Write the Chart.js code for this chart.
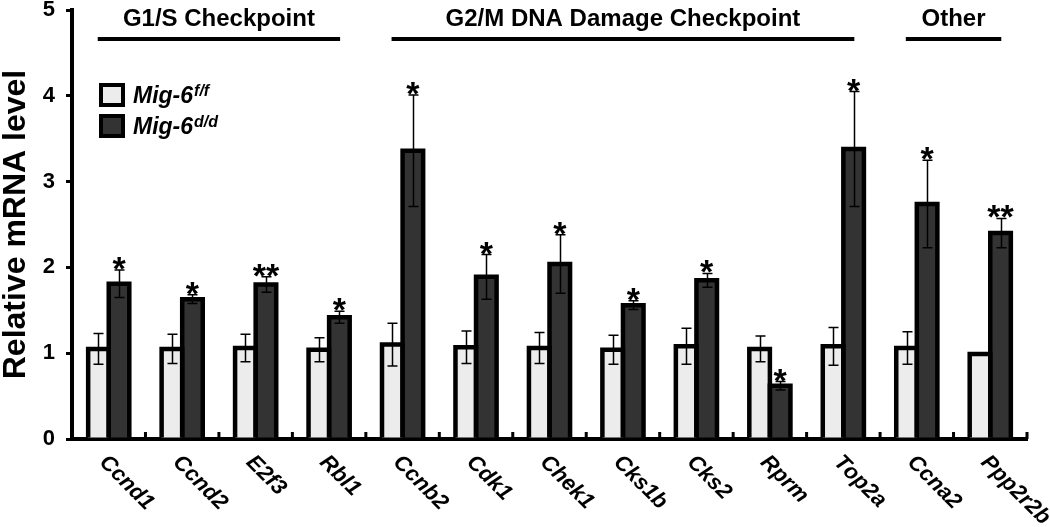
<!DOCTYPE html>
<html><head><meta charset="utf-8">
<script src="https://cdn.jsdelivr.net/npm/chart.js@4/dist/chart.umd.min.js"></script>
<style>html,body{margin:0;padding:0;background:#fff}#wrap{width:1050px;height:527px}</style>
</head><body><div id="wrap"><canvas id="c" width="1050" height="527"></canvas></div>
<script>
const categories = ['Ccnd1','Ccnd2','E2f3','Rbl1','Ccnb2','Cdk1','Chek1','Cks1b','Cks2','Rprm','Top2a','Ccna2','Ppp2r2b'];
const mig6ff    = [1.05,1.05,1.06,1.04,1.10,1.07,1.06,1.04,1.08,1.05,1.08,1.06,0.99];
const mig6ffErr = [0.18,0.17,0.16,0.14,0.25,0.19,0.18,0.17,0.21,0.15,0.22,0.19,0.01];
const mig6dd    = [1.81,1.63,1.80,1.42,3.36,1.89,2.04,1.56,1.85,0.62,3.38,2.74,2.40];
const mig6ddErr = [0.16,0.05,0.09,0.07,0.65,0.26,0.34,0.05,0.08,0.05,0.67,0.51,0.17];
const significance = ['*','*','**','*','*','*','*','*','*','*','*','*','**'];
const seriesBase = ['Mig-6','Mig-6'];
const seriesSup = ['f/f','d/d'];
const groupLabels = ['G1/S Checkpoint','G2/M DNA Damage Checkpoint','Other'];
const groupFrom = [0,4,11];
const groupTo = [3,10,12];
const yTitle = 'Relative mRNA level';

const FAM = "'Liberation Sans', Arial, sans-serif";
const LIGHT = '#ececec', DARK = '#333333';
const EDGE = 4.5;

const overlay = {
  id: 'overlay',
  afterDatasetsDraw(chart) {
    const {ctx, scales: {x, y}} = chart;
    ctx.save();
    // bar outlines centred on the edges of the library's bar elements
    ctx.strokeStyle = '#000'; ctx.lineWidth = EDGE; ctx.lineJoin = 'miter';
    [0, 1].forEach(di => {
      chart.getDatasetMeta(di).data.forEach(bar => {
        const p = bar.getProps(['x', 'y', 'base', 'width'], true);
        const l = p.x - p.width / 2, r = p.x + p.width / 2;
        const t = p.y, b = p.base;
        ctx.beginPath();
        ctx.moveTo(l, b); ctx.lineTo(l, t); ctx.lineTo(r, t); ctx.lineTo(r, b);
        ctx.stroke();
      });
    });
    const sets = [[0, mig6ff, mig6ffErr], [1, mig6dd, mig6ddErr]];
    ctx.lineWidth = 1.5;
    sets.forEach(([di, vals, errs]) => {
      chart.getDatasetMeta(di).data.forEach((bar, i) => {
        const cx = Math.round(bar.x) + 0.5;
        const yt = y.getPixelForValue(vals[i] + errs[i]);
        const yb = y.getPixelForValue(vals[i] - errs[i]);
        ctx.beginPath();
        ctx.moveTo(cx, yt); ctx.lineTo(cx, yb);
        ctx.moveTo(cx - 5, yt); ctx.lineTo(cx + 5, yt);
        ctx.moveTo(cx - 5, yb); ctx.lineTo(cx + 5, yb);
        ctx.stroke();
        if (di === 1) {
          ctx.fillStyle = '#000';
          ctx.font = 'bold 34px ' + FAM;
          ctx.textAlign = 'center'; ctx.textBaseline = 'alphabetic';
          ctx.fillText(significance[i], bar.x, yt + 10);
        }
      });
    });
    const half = (x.getPixelForValue(1) - x.getPixelForValue(0)) / 2;
    const ay = chart.chartArea.bottom;
    ctx.fillStyle = '#000';
    categories.forEach((c, i) => {
      const bx = x.getPixelForValue(i) + half;
      ctx.fillRect(bx - 1.5, ay - 7, 3, 7);
    });
    ctx.restore();
  },
  afterDraw(chart) {
    const {ctx, scales: {x, y}} = chart;
    ctx.save();
    ctx.fillStyle = '#000';
    ctx.font = 'italic bold 22px ' + FAM;
    ctx.textAlign = 'left'; ctx.textBaseline = 'middle';
    categories.forEach((c, i) => {
      const cx = x.getPixelForValue(i);
      ctx.save();
      ctx.translate(cx - 6, chart.chartArea.bottom + 20);
      ctx.rotate(Math.PI / 4);
      ctx.fillText(c, 0, 0);
      ctx.restore();
    });
    ctx.font = 'bold 24px ' + FAM;
    ctx.textAlign = 'center'; ctx.textBaseline = 'alphabetic';
    groupLabels.forEach((g, k) => {
      const x0 = x.getPixelForValue(groupFrom[k]) - 11;
      const x1 = x.getPixelForValue(groupTo[k]) + 11;
      ctx.fillRect(x0, 37, x1 - x0, 4);
      ctx.fillText(g, (x0 + x1) / 2, 26);
    });
    const boxes = [[LIGHT, 83], [DARK, 114]];
    boxes.forEach(([col, top], k) => {
      ctx.fillStyle = col;
      ctx.fillRect(101, top + 2, 22, 20);
      ctx.strokeStyle = '#000'; ctx.lineWidth = 4;
      ctx.strokeRect(101, top + 2, 22, 20);
      ctx.fillStyle = '#000';
      ctx.textAlign = 'left';
      ctx.font = 'italic bold 23px ' + FAM;
      ctx.fillText(seriesBase[k], 133, top + 20);
      const w = ctx.measureText(seriesBase[k]).width;
      ctx.font = 'italic bold 16px ' + FAM;
      ctx.fillText(seriesSup[k], 133 + w + 1, top + 13);
    });
    ctx.restore();
  }
};

new Chart(document.getElementById('c'), {
  type: 'bar',
  data: {
    labels: categories,
    datasets: [
      {label: 'Mig-6 f/f', data: mig6ff, backgroundColor: LIGHT, borderWidth: 0, categoryPercentage: 0.56, barPercentage: 1.0},
      {label: 'Mig-6 d/d', data: mig6dd, backgroundColor: DARK, borderWidth: 0, categoryPercentage: 0.56, barPercentage: 1.0}
    ]
  },
  options: {
    responsive: false, animation: false, devicePixelRatio: 1,
    layout: {padding: {top: 10, right: 23, left: 0, bottom: 0}},
    plugins: {legend: {display: false}, tooltip: {enabled: false}},
    scales: {
      x: {
        grid: {display: false},
        border: {display: true, color: '#000', width: 4},
        ticks: {display: false},
        afterFit(s) { s.height = 88; s.paddingLeft = 0; s.paddingRight = 0; }
      },
      y: {
        min: 0, max: 5,
        ticks: {stepSize: 1, color: '#000', padding: 11, font: {family: FAM, size: 22, weight: 'bold'}},
        grid: {drawOnChartArea: false, drawTicks: true, tickLength: 6, color: '#000', lineWidth: 3},
        border: {display: true, color: '#000', width: 4},
        title: {display: true, text: yTitle, color: '#000', padding: {top: 0, bottom: 0}, font: {family: FAM, size: 32, weight: 'bold', lineHeight: 1}},
        afterFit(s) { s.width = 72; s.paddingTop = 0; s.paddingBottom = 0; }
      }
    }
  },
  plugins: [overlay]
});
</script>
</body></html>
